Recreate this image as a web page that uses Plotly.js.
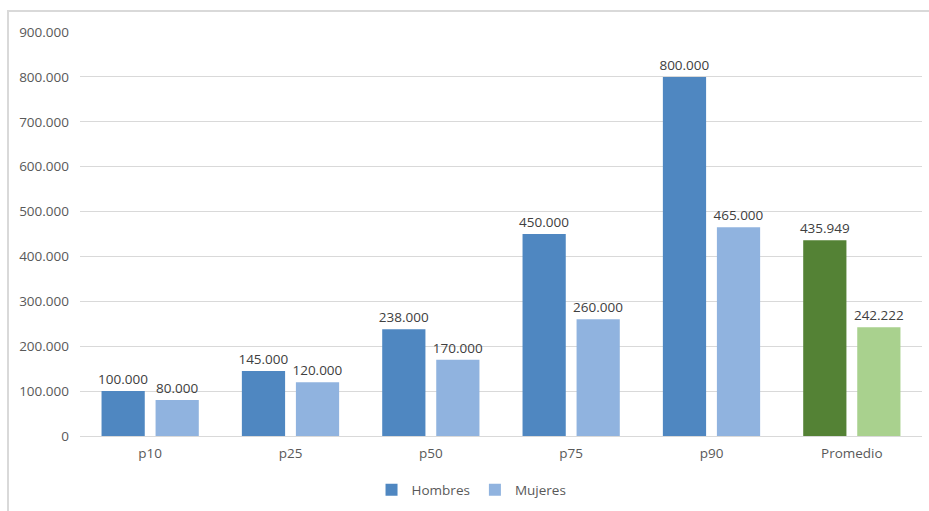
<!DOCTYPE html>
<html>
<head>
<meta charset="utf-8">
<script src="https://cdn.plot.ly/plotly-3.0.1.min.js"></script>
<style>
  html, body { margin: 0; padding: 0; background: #ffffff; }
  #wrap { position: relative; width: 929px; height: 511px; overflow: hidden; }
  #frame { position: absolute; left: 7px; top: 10px; width: 940px; height: 520px; border: 2px solid #d9d9d9; box-sizing: border-box; }
  #chart { position: absolute; left: 0; top: 0; width: 929px; height: 511px; }
</style>
</head>
<body>
<div id="wrap">
  <div id="frame"></div>
  <div id="chart"></div>
</div>
<script>
const categories = ["p10", "p25", "p50", "p75", "p90", "Promedio"];
const hombres = [100000, 145000, 238000, 450000, 800000, 435949];
const mujeres = [80000, 120000, 170000, 260000, 465000, 242222];
const seriesNames = ["Hombres", "Mujeres"];
const yTicks = [0, 100000, 200000, 300000, 400000, 500000, 600000, 700000, 800000, 900000];

const hombresColors = categories.map(c => c === "Promedio" ? "#548235" : "#4f87c1");
const mujeresColors = categories.map(c => c === "Promedio" ? "#a9d18e" : "#90b3df");

const fontFam = "'Open Sans', 'Noto Sans', sans-serif";
const fs = 13.5;

const traces = [
  {
    type: "bar", name: seriesNames[0], x: categories, y: hombres,
    marker: { color: hombresColors },
    texttemplate: "%{y:,}", textposition: "outside", cliponaxis: false,
    constraintext: "none",
    textfont: { family: fontFam, size: fs, color: "#404040" },
    hoverinfo: "none"
  },
  {
    type: "bar", name: seriesNames[1], x: categories, y: mujeres,
    marker: { color: mujeresColors },
    texttemplate: "%{y:,}", textposition: "outside", cliponaxis: false,
    constraintext: "none",
    textfont: { family: fontFam, size: fs, color: "#404040" },
    hoverinfo: "none"
  }
];

const layout = {
  width: 929, height: 511,
  margin: { l: 80, r: 7, t: 32, b: 74, pad: 0 },
  paper_bgcolor: "rgba(0,0,0,0)",
  plot_bgcolor: "rgba(0,0,0,0)",
  separators: ",.",
  barmode: "group",
  bargap: 0.23,
  bargroupgap: 0.2,
  font: { family: fontFam, size: fs, color: "#595959" },
  showlegend: true,
  legend: {
    orientation: "h", x: 0.465, xanchor: "center", y: -0.131, yanchor: "middle",
    font: { family: fontFam, size: fs, color: "#595959" },
    itemwidth: 30, traceorder: "normal"
  },
  xaxis: {
    type: "category",
    showgrid: false, zeroline: false,
    showline: true, linecolor: "#d9d9d9", linewidth: 1,
    ticks: "", ticklabelstandoff: 5,
    tickfont: { family: fontFam, size: fs, color: "#595959" },
    fixedrange: true
  },
  yaxis: {
    range: [0, 900000],
    tickvals: yTicks,
    tickformat: ",d",
    showgrid: true, gridcolor: "#d9d9d9", gridwidth: 1,
    zeroline: false, showline: false,
    ticks: "", ticklabelstandoff: 10,
    tickfont: { family: fontFam, size: fs, color: "#595959" },
    fixedrange: true
  }
};

Plotly.newPlot("chart", traces, layout, { displayModeBar: false, staticPlot: true });
</script>
</body>
</html>
